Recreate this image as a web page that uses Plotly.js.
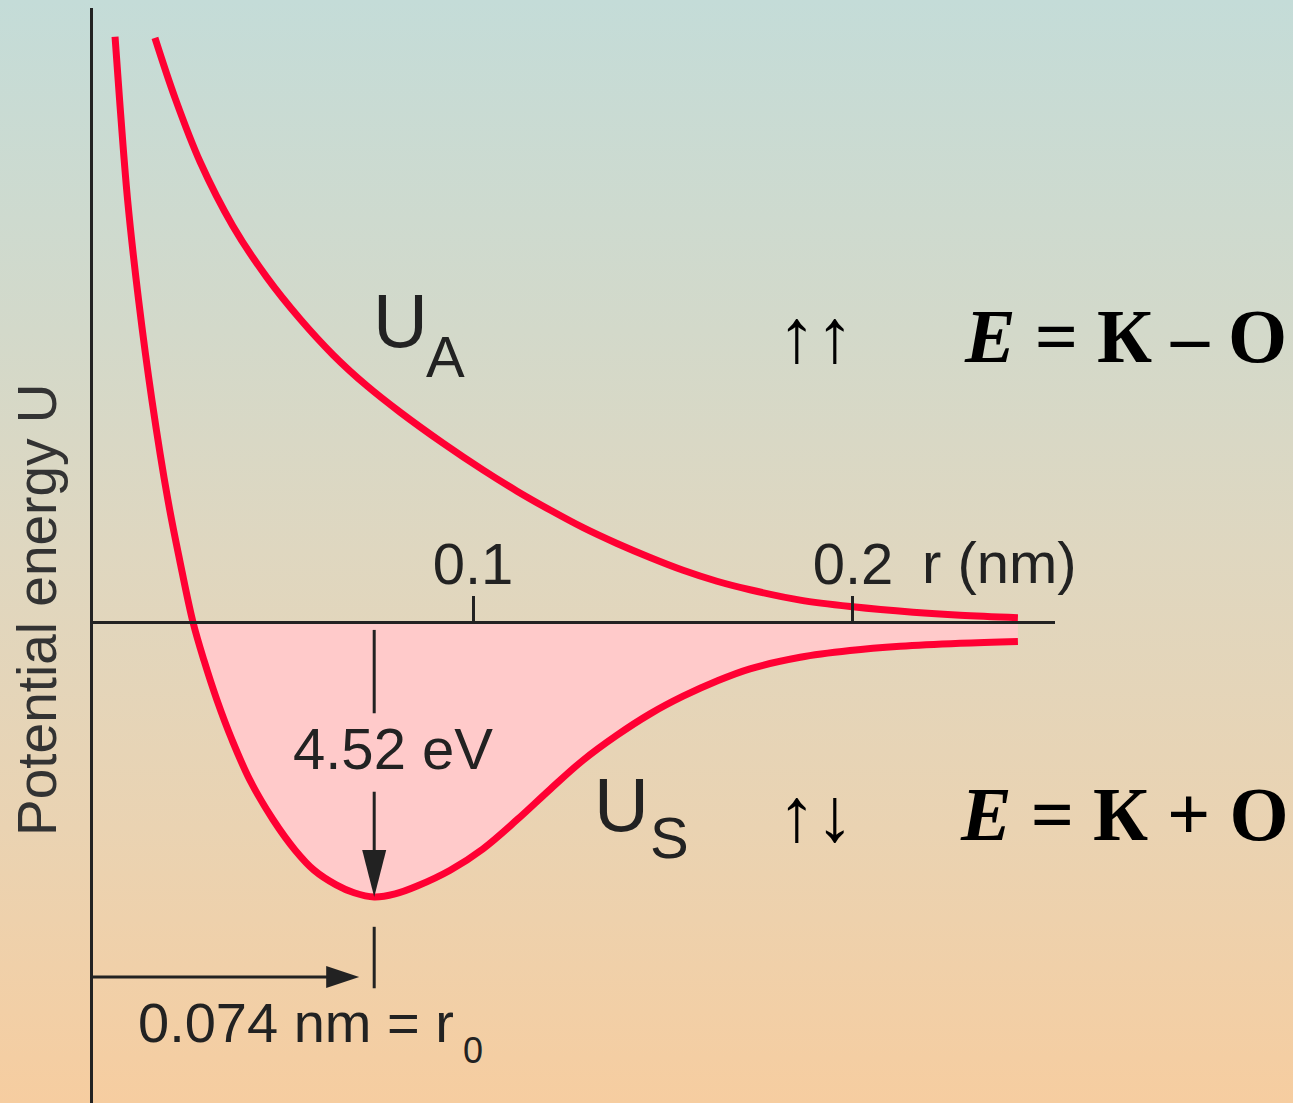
<!DOCTYPE html>
<html>
<head>
<meta charset="utf-8">
<script src="https://cdn.plot.ly/plotly-3.0.1.min.js"></script>
<style>
  html, body { margin: 0; padding: 0; }
  body {
    width: 1293px; height: 1103px; overflow: hidden;
    background: linear-gradient(to bottom, #c4dcd8 0%, #d3d9ca 30%, #dfd7c0 50%, #ead3b2 75%, #f6cda0 100%);
  }
  #chart { width: 1293px; height: 1103px; }
</style>
</head>
<body>
<div id="chart"></div>
<script>
// Separation r in nm, energies in eV
const rS = [0.0058, 0.0070, 0.0091, 0.0120, 0.0155, 0.0197, 0.0228, 0.0263, 0.0292, 0.0326, 0.0366, 0.0413,
            0.0474, 0.0532, 0.0582, 0.0640, 0.0687, 0.0740, 0.0795, 0.0853, 0.0940, 0.1026, 0.1116, 0.1203,
            0.1290, 0.1379, 0.1466, 0.1553, 0.1642, 0.1729, 0.1861, 0.1992, 0.2124, 0.2282, 0.2434];
const uS = [9.62, 8.58, 6.94, 5.29, 3.65, 2.01, 1.02, 0.00, -0.63, -1.28, -1.94, -2.60,
            -3.25, -3.75, -4.08, -4.32, -4.45, -4.52, -4.47, -4.34, -4.08, -3.73, -3.25, -2.75,
            -2.27, -1.86, -1.51, -1.22, -0.97, -0.77, -0.58, -0.47, -0.40, -0.35, -0.32];

const rA = [0.0163, 0.0216, 0.0282, 0.0368, 0.0458, 0.0545, 0.0632, 0.0721, 0.0808, 0.0921, 0.1026, 0.1116,
            0.1203, 0.1290, 0.1379, 0.1466, 0.1553, 0.1642, 0.1729, 0.1861, 0.2000, 0.2158, 0.2282, 0.2434];
const uA = [9.60, 8.61, 7.56, 6.51, 5.66, 4.98, 4.39, 3.88, 3.45, 2.94, 2.50, 2.15,
            1.84, 1.55, 1.29, 1.06, 0.85, 0.67, 0.53, 0.36, 0.25, 0.16, 0.11, 0.07];

const tickVals = [0.1, 0.2];
const tickText = ["0.1", "0.2"];

const r0 = 0.074;        // equilibrium separation, nm
const bindEnergy = 4.52; // well depth, eV

const xRange = [0, 0.25316];
const yRange = [-7.906, 10.092];

const RED = "#ff0033";
const INK = "#222222";
const SANS = "Liberation Sans, Arial, sans-serif";
const SERIF = "Liberation Serif, Times New Roman, serif";

// bound region: the part of U_S below zero
const wellR = rS.filter((r, i) => uS[i] <= 0);
const wellU = uS.filter(u => u <= 0);

const curve = { shape: "spline", smoothing: 1 };

const traces = [
  { x: wellR, y: wellU, type: "scatter", mode: "lines", fill: "tozeroy",
    fillcolor: "#ffcaca", line: Object.assign({ width: 0 }, curve),
    hoverinfo: "skip", showlegend: false },
  { x: rS, y: uS, type: "scatter", mode: "lines", name: "U_S",
    line: Object.assign({ color: RED, width: 7 }, curve), showlegend: false },
  { x: rA, y: uA, type: "scatter", mode: "lines", name: "U_A",
    line: Object.assign({ color: RED, width: 7 }, curve), showlegend: false }
];

const zeroPos = (0 - yRange[0]) / (yRange[1] - yRange[0]);
const xPaper = px => (px - 93) / 962;

const lineShape = (x0, y0, x1, y1, w) => ({
  type: "line", xref: "x", yref: "y", x0, y0, x1, y1,
  line: { color: INK, width: w }, layer: "above"
});

const arrowY = -5.835;

const shapes = [
  // depth arrow down to the minimum of U_S
  lineShape(r0, -0.13, r0, -1.50, 3),
  lineShape(r0, -2.79, r0, -bindEnergy + 0.6, 3),
  { type: "path", xref: "x", yref: "y", xsizemode: "pixel", ysizemode: "pixel",
    xanchor: r0, yanchor: -bindEnergy, path: "M0,0 L-12,47 L12,47 Z",
    fillcolor: INK, line: { width: 0 }, layer: "above" },
  // r0 marker and arrow from the origin
  lineShape(r0, -5.01, r0, -6.02, 3),
  lineShape(0, arrowY, r0 - 0.008, arrowY, 3),
  { type: "path", xref: "x", yref: "y", xsizemode: "pixel", ysizemode: "pixel",
    xanchor: r0, yanchor: arrowY, path: "M-15,0 L-48,11 L-48,-11 Z",
    fillcolor: INK, line: { width: 0 }, layer: "above" }
];

const ann = (text, x, y, size, extra) => Object.assign({
  text, x, y, xref: "x", yref: "y", showarrow: false,
  xanchor: "center", yanchor: "middle",
  font: { family: SANS, size, color: INK }
}, extra || {});

const serifFont = { family: SERIF, size: 76, color: "#000" };

const annotations = [
  ann("U", 0.08079, 4.956, 76),
  ann("A", 0.09289, 4.372, 58),
  ann("U", 0.13921, -2.999, 76),
  ann("S", 0.15184, -3.55, 58),
  ann(bindEnergy.toFixed(2) + " eV", 0.07895, -2.079, 58),
  ann("r (nm)", 0.23868, 0.986, 58),
  ann("0.074 nm = r", 0.05342, -6.575, 56),
  ann("0", 0.1, -7.035, 36),
  ann("Potential energy U", xPaper(37), 0.197, 55,
      { xref: "paper", textangle: -90, font: { family: SANS, size: 55, color: "#333333" } }),
  ann("↑↑", xPaper(816), 4.70, 76, { xref: "paper", font: serifFont }),
  ann("<b><i>E</i> = К – О</b>", xPaper(1125), 4.70, 76, { xref: "paper", font: serifFont }),
  ann("↑↓", xPaper(816), -3.172, 76, { xref: "paper", font: serifFont }),
  ann("<b><i>E</i> = К + О</b>", xPaper(1124), -3.156, 76, { xref: "paper", font: serifFont })
];

const layout = {
  width: 1293, height: 1103,
  margin: { l: 93, r: 238, t: 8, b: 0, pad: 0 },
  paper_bgcolor: "rgba(0,0,0,0)",
  plot_bgcolor: "rgba(0,0,0,0)",
  showlegend: false,
  hovermode: false,
  xaxis: {
    range: xRange, anchor: "free", position: zeroPos, side: "top",
    showline: true, linecolor: INK, linewidth: 3,
    ticks: "outside", ticklen: 25, tickwidth: 3, tickcolor: INK,
    tickvals: tickVals, ticktext: tickText, ticklabelstandoff: -11,
    tickfont: { family: SANS, size: 58, color: INK },
    showgrid: false, zeroline: false, fixedrange: true
  },
  yaxis: {
    range: yRange, showline: true, linecolor: INK, linewidth: 3,
    ticks: "", showticklabels: false, showgrid: false, zeroline: false, fixedrange: true
  },
  shapes, annotations
};

Plotly.newPlot("chart", traces, layout, { staticPlot: true, displayModeBar: false });
</script>
</body>
</html>
